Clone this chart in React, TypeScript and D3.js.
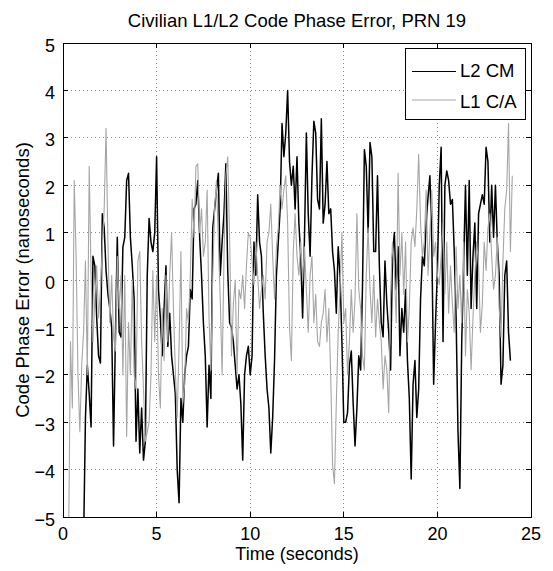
import React from "react";
import * as d3 from "d3";

// ---- data ----
const title = "Civilian L1/L2 Code Phase Error, PRN 19";
const xLabel = "Time (seconds)";
const yLabel = "Code Phase Error (nanoseconds)";
const xTicks = [0, 5, 10, 15, 20, 25];
const yTicks = [-5, -4, -3, -2, -1, 0, 1, 2, 3, 4, 5];
const seriesNames = ["L2 CM", "L1 C/A"];

const sampleStep = 0.1; // seconds between samples
const l2cmStart = 1.1;
const l2cmValues = [
  -5.5, -2.9, -1.8, -2.4, -3.1, 0.5, 0.3, -0.8, -1.6, -1.75,
  1.4, 1.1, 0.2, -0.3, -0.6, -1.0, -3.5, -1.2, 0.9, -1.1,
  -1.2, 0.7, 0.9, 2.1, 2.25, 0.9, 0.3, -0.4, -3.4, -2.3,
  -3.65, -2.7, -3.8, -3.4, 0.1, 1.3, 0.8, 0.6, 1.0, 2.6,
  -0.2, -0.8, -1.6, -0.6, 0.3, -1.4, -0.7, -1.6, -2.0, -2.4,
  -4.0, -4.7, -2.5, -3.0, -2.0, -1.6, -1.4, -0.2, -0.4, 1.5,
  1.6, 2.1, 0.9, 0.1, -0.9, -1.6, -3.1, -1.8, -2.5, 1.1,
  1.5, 1.9, 2.25, 0.1, 0.8, 1.4, 2.45, 0.2, -0.9, -1.0,
  -1.3, -1.8, -2.3, -2.0, -2.6, -3.8, -2.0, -1.6, -1.4, -2.0,
  -1.6, 0.8, 0.1, 1.8, 0.8, 0.5, -0.7, -1.6, -2.3, -2.7,
  -3.65, -2.9, -1.7, 0.1, 0.8, 1.5, 3.3, 2.6, 3.1, 4.0,
  2.5, 2.0, 2.4, 1.5, 2.6, 1.2, 0.5, -0.8, 0.9, 3.1,
  1.4, 0.5, 2.2, 3.35, 3.1, 1.7, 1.5, 3.4, 1.2, 1.6,
  2.5, 1.4, 1.5, 0.6, 0.2, -0.7, 0.7, 0.1, -1.3, -3.0,
  -3.0, -2.8, -1.8, -1.5, -2.6, -3.5, -2.7, -1.6, -1.9, -0.1,
  2.75, 2.4, 1.0, 2.9, 2.6, 0.6, 0.6, 2.2, 0.3, -0.9,
  -1.2, 0.4, -0.5, -1.1, -1.9, 0.5, 1.0, -0.2, 0.7, -1.6,
  -0.6, -1.1, -0.2, -1.7, -2.5, -4.2, -2.2, -1.7, -2.9, -2.3,
  -0.4, 0.5, 0.3, 1.2, 1.75, 2.2, 0.8, -2.2, -0.9, 0.2,
  2.0, 2.8, -1.3, 2.0, 2.3, 2.1, 1.6, 1.7, 0.6, -0.8,
  -3.2, -4.4, -1.3, 0.3, 2.0, 0.1, 2.1, -0.6, 0.5, 1.2,
  -0.6, 1.4, 1.6, 1.8, 1.6, 2.8, 2.5, 0.8, 2.0, 0.9,
  2.0, 0.8, 0.1, -2.2, -1.8, 0.1, 0.4, -1.1, -1.7,
];

const l1caStart = 0.3;
const l1caValues = [
  -5.5, -1.3, -2.7, 2.1, 0.5, -2.0, -3.2, -1.8,
  -1.1, 0.4, -2.0, 2.4, 0.1, -1.3, -0.4, 0.3, -0.8, -0.2,
  0.7, 1.5, 3.2, 0.8, -0.9, 0.1, -1.2, -1.5, 0.5, -0.6,
  0.1, -2.0, 0.1, -3.3, -0.9, -2.0, 0.0, -2.0, -2.3, 0.4,
  0.6, -1.3, -2.3, -3.4, -3.2, -3.0, -2.0, 0.2, -1.3, 0.1,
  -2.0, -2.7, -0.6, -1.7, 0.1, -1.3, 0.1, 1.0, -0.6, -1.9,
  -2.9, -1.4, 0.6, -2.6, -2.2, -0.6, -0.9, 0.1, 1.7, 0.9,
  2.4, 2.45, 1.0, 1.5, 0.5, 0.8, 1.9, -0.8, -1.9, 0.1,
  1.5, 2.1, 0.8, -0.4, -2.0, 0.5, 2.2, 2.6, 0.9, -1.6,
  -0.5, 0.0, -2.0, -0.2, -0.4, 0.1, -0.6, 0.3, 1.0, 0.9,
  0.4, -0.1, 0.8, 0.1, -0.6, -0.2, 0.1, -0.4, 0.8, 1.0,
  1.6, 0.5, -0.4, 0.7, 1.1, 2.0, 1.5, 1.9, 2.2, 1.2,
  -1.0, -1.7, 0.6, 1.4, 0.5, 0.1, 0.8, 0.0, 0.7, -0.2,
  -1.1, 0.1, 0.5, -0.9, -0.3, -1.3, -1.4, -0.9, -0.7, -0.2,
  -1.3, -0.6, -2.0, -3.9, -4.3, -2.6, -1.1, -0.2, 1.0, -0.9,
  -0.6, -2.0, -1.3, -0.2, -1.1, -0.4, 1.4, -0.2, -0.6, -1.6,
  -1.9, 0.1, 1.1, -0.2, -0.9, 0.1, -1.2, -0.4, -0.9, -1.3,
  -2.3, -1.6, -1.9, -2.8, -0.3, 0.8, 0.2, -0.9, 2.25, 0.1,
  1.0, -0.3, 0.8, -1.3, -0.6, 0.8, 1.1, 0.7, 1.5, 2.65,
  1.2, 0.5, 0.8, 1.9, 0.1, 1.0, 1.9, 0.5, 0.8, 0.1,
  -0.1, 0.5, 1.2, -0.3, 0.8, -0.7, 0.3, -0.5, -1.1, 0.7,
  -0.6, 0.1, -0.9, 0.8, -1.6, -0.2, -0.7, -1.9, -0.8, 0.1,
  0.8, 0.3, -1.1, -0.5, 0.8, 0.2, 1.1, 1.4, 0.5, -0.2,
  0.1, 0.9, -0.6, -1.2, 0.4, 1.5, 1.9, 3.3, 0.6, 2.2,
];

const W = 553;
const H = 571;
const FONT = "'Liberation Sans', Arial, Helvetica, sans-serif";
const FS = 18;

export default function App() {
  const left = 63, right = 531, top = 43, bottom = 517;
  const x = d3.scaleLinear().domain([0, 25]).range([left, right]);
  const y = d3.scaleLinear().domain([-5, 5]).range([bottom, top]);

  const mk = (start: number) =>
    d3
      .line<number>()
      .x((_, i) => x(start + i * sampleStep))
      .y((v) => y(v));

  const l2Path = mk(l2cmStart)(l2cmValues) || "";
  const l1Path = mk(l1caStart)(l1caValues) || "";

  const tickLen = 5;
  const gridColor = "#8a8a8a";

  return (
    <svg
      width={W}
      height={H}
      style={{ position: "absolute", left: 0, top: 0, background: "#fff" }}
      fontFamily={FONT}
    >
      <rect x={0} y={0} width={W} height={H} fill="#fff" />
      <defs>
        <clipPath id="plotClip">
          <rect x={left} y={top} width={right - left} height={bottom - top} />
        </clipPath>
      </defs>

      {/* grid */}
      <g stroke={gridColor} strokeWidth={1} strokeDasharray="1,3" shapeRendering="crispEdges">
        {xTicks
          .filter((t) => t > 0 && t < 25)
          .map((t) => (
            <line key={"gx" + t} x1={x(t)} x2={x(t)} y1={top} y2={bottom} />
          ))}
        {yTicks
          .filter((t) => t > -5 && t < 5)
          .map((t) => (
            <line key={"gy" + t} x1={left} x2={right} y1={y(t)} y2={y(t)} />
          ))}
      </g>

      {/* series */}
      <g clipPath="url(#plotClip)" fill="none" strokeLinejoin="round">
        <path d={l2Path} stroke="#000" strokeWidth={1.5} />
        <path d={l1Path} stroke="#a6a6a6" strokeWidth={1.1} />
      </g>

      {/* ticks on all four sides, pointing inward */}
      <g stroke="#000" strokeWidth={1} shapeRendering="crispEdges">
        {xTicks.map((t) => (
          <g key={"tx" + t}>
            <line x1={x(t)} x2={x(t)} y1={bottom} y2={bottom - tickLen} />
            <line x1={x(t)} x2={x(t)} y1={top} y2={top + tickLen} />
          </g>
        ))}
        {yTicks.map((t) => (
          <g key={"ty" + t}>
            <line x1={left} x2={left + tickLen} y1={y(t)} y2={y(t)} />
            <line x1={right} x2={right - tickLen} y1={y(t)} y2={y(t)} />
          </g>
        ))}
      </g>

      {/* axes box */}
      <rect
        x={left}
        y={top}
        width={right - left}
        height={bottom - top}
        fill="none"
        stroke="#000"
        strokeWidth={1}
        shapeRendering="crispEdges"
      />

      {/* tick labels */}
      <g fontSize={FS} fill="#000">
        {xTicks.map((t) => (
          <text key={"lx" + t} x={x(t)} y={540} textAnchor="middle">
            {String(t)}
          </text>
        ))}
        {yTicks.map((t) => (
          <text key={"ly" + t} x={55} y={y(t) + 8.5} textAnchor="end">
            {t < 0 ? "\u2212" + Math.abs(t) : String(t)}
          </text>
        ))}
      </g>

      {/* labels */}
      <text x={(left + right) / 2} y={27} textAnchor="middle" fontSize={18.5} fill="#000">
        {title}
      </text>
      <text x={(left + right) / 2} y={560} textAnchor="middle" fontSize={FS} fill="#000">
        {xLabel}
      </text>
      <text
        transform={`translate(29, ${(top + bottom) / 2}) rotate(-90)`}
        textAnchor="middle"
        fontSize={18.5}
        fill="#000"
      >
        {yLabel}
      </text>

      {/* legend */}
      <g>
        <rect x={405} y={48} width={120} height={71} fill="#fff" stroke="#000" strokeWidth={1} shapeRendering="crispEdges" />
        <line x1={412} x2={456} y1={71.5} y2={71.5} stroke="#000" strokeWidth={1} />
        <line x1={412} x2={456} y1={100} y2={100} stroke="#a6a6a6" strokeWidth={1} />
        <text x={460} y={77} fontSize={18.5} fill="#000">
          {seriesNames[0]}
        </text>
        <text x={460} y={107.5} fontSize={18.5} fill="#000">
          {seriesNames[1]}
        </text>
      </g>
    </svg>
  );
}
